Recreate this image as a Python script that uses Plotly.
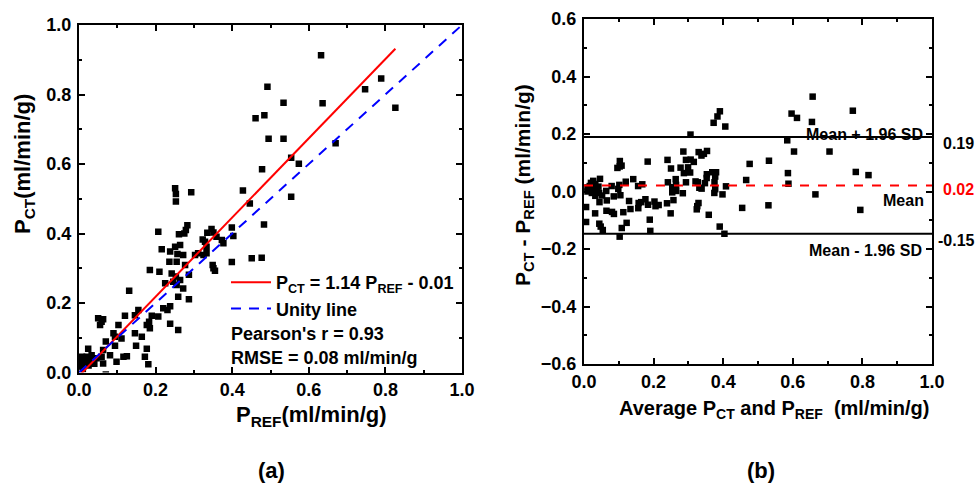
import plotly.graph_objects as go

# ---------------- data ----------------
# Panel (a): P_REF (x) vs P_CT (y), ml/min/g
# (the last six pairs lie just below the visible y-range of panel (a); they were
#  read from their positions in panel (b))
p_ref = [0.632, 0.636, 0.670, 0.747, 0.789, 0.826,
         0.534, 0.534, 0.554, 0.574, 0.554,
         0.492, 0.461, 0.484, 0.495, 0.478, 0.428, 0.446,
         0.251, 0.253, 0.253, 0.293,
         0.283, 0.279, 0.275, 0.261, 0.207, 0.483, 0.399, 0.403,
         0.346, 0.351, 0.335, 0.359, 0.373, 0.377, 0.323, 0.329, 0.333,
         0.216, 0.238, 0.251, 0.264, 0.257, 0.272, 0.303, 0.311, 0.325, 0.333,
         0.236, 0.255, 0.277, 0.399, 0.451, 0.477, 0.349, 0.351, 0.355,
         0.185, 0.210, 0.242, 0.253, 0.264, 0.287, 0.225, 0.246, 0.255, 0.272,
         0.259, 0.287, 0.131, 0.220, 0.231, 0.238, 0.207, 0.190, 0.183, 0.177, 0.185, 0.238, 0.259,
         0.155, 0.146, 0.120, 0.050, 0.059, 0.063, 0.055, 0.103, 0.090, 0.094, 0.146, 0.164, 0.111,
         0.149, 0.177, 0.094, 0.070, 0.081, 0.098, 0.116, 0.125, 0.172, 0.181, 0.063, 0.059, 0.063,
         0.046, 0.037, 0.024, 0.033, 0.020, 0.011, 0.007, 0.016, 0.003,
         0.005, 0.010, 0.015, 0.025, 0.030, 0.008, 0.040,
         0.033, 0.059, 0.070, 0.100, 0.109, 0.121]
p_ct = [0.913, 0.775, 0.660, 0.815, 0.846, 0.762,
        0.776, 0.673, 0.618, 0.601, 0.506,
        0.822, 0.732, 0.740, 0.673, 0.585, 0.524, 0.486,
        0.530, 0.514, 0.492, 0.519,
        0.424, 0.410, 0.400, 0.398, 0.405, 0.426, 0.417, 0.393,
        0.413, 0.403, 0.402, 0.391, 0.381, 0.372, 0.383, 0.376, 0.362,
        0.355, 0.348, 0.362, 0.367, 0.341, 0.338, 0.338, 0.343, 0.338, 0.343,
        0.319, 0.319, 0.309, 0.318, 0.329, 0.330, 0.309, 0.300, 0.293,
        0.295, 0.290, 0.285, 0.276, 0.266, 0.281, 0.257, 0.261, 0.252, 0.242,
        0.218, 0.211, 0.235, 0.185, 0.180, 0.191, 0.161, 0.163, 0.146, 0.137, 0.127, 0.140, 0.122,
        0.180, 0.165, 0.163, 0.156, 0.146, 0.153, 0.137, 0.137, 0.113, 0.103, 0.113, 0.103, 0.098,
        0.077, 0.068, 0.077, 0.089, 0.050, 0.031, 0.045, 0.047, 0.045, 0.024, 0.065, 0.045, 0.026,
        0.041, 0.036, 0.068, 0.050, 0.045, 0.041, 0.026, 0.022, 0.017,
        0.035, 0.010, 0.030, 0.020, 0.035, 0.045, 0.025,
        -0.021, -0.047, -0.006, -0.012, -0.013, -0.013]

fit_slope = 1.14
fit_intercept = -0.01
fit_x_range = [0.0, 0.826]
unity_range = [0.0, 1.0]

mean_diff = 0.021
upper_loa = 0.19
lower_loa = -0.147
loa_labels = ["0.19", "0.02", "-0.15"]

# Panel (b): Bland-Altman (average vs difference) of the same pairs
ba_avg = [(r + c) / 2 for r, c in zip(p_ref, p_ct)]
ba_diff = [c - r for r, c in zip(p_ref, p_ct)]

# ---------------- figure ----------------
FONT = "Liberation Sans, Arial, sans-serif"
W, H = 979, 491

def px(x):
    return x / W

def py(y):
    return 1 - y / H

fig = go.Figure()

fit_y = [fit_slope * v + fit_intercept for v in fit_x_range]

fig.add_trace(go.Scatter(x=p_ref, y=p_ct, mode="markers", showlegend=False,
                         marker=dict(symbol="square", size=6.5, color="black"),
                         xaxis="x", yaxis="y"))
fig.add_trace(go.Scatter(x=fit_x_range, y=fit_y, mode="lines",
                         name="<b>P<sub>CT</sub> = 1.14 P<sub>REF</sub> - 0.01</b>",
                         line=dict(color="#ff0000", width=2), xaxis="x", yaxis="y"))
fig.add_trace(go.Scatter(x=unity_range, y=unity_range, mode="lines",
                         name="<b>Unity line</b>",
                         line=dict(color="#0000ff", width=2, dash="10px,8px"), xaxis="x", yaxis="y"))

fig.add_trace(go.Scatter(x=ba_avg, y=ba_diff, mode="markers", showlegend=False,
                         marker=dict(symbol="square", size=6.5, color="black"),
                         xaxis="x2", yaxis="y2"))
fig.add_trace(go.Scatter(x=[0, 1], y=[upper_loa, upper_loa], mode="lines", showlegend=False,
                         line=dict(color="black", width=2), xaxis="x2", yaxis="y2"))
fig.add_trace(go.Scatter(x=[0, 1], y=[lower_loa, lower_loa], mode="lines", showlegend=False,
                         line=dict(color="black", width=2), xaxis="x2", yaxis="y2"))
fig.add_trace(go.Scatter(x=[0, 1], y=[mean_diff, mean_diff], mode="lines", showlegend=False,
                         line=dict(color="#ff0000", width=2, dash="9px,9px"), xaxis="x2", yaxis="y2"))

tickfont = dict(family=FONT, size=18, color="black", weight="bold")

axis_common = dict(showline=True, linecolor="black", linewidth=2, mirror="allticks",
                   ticks="inside", ticklen=6, tickwidth=1.5, tickcolor="black",
                   showgrid=False, zeroline=False, tickfont=tickfont, automargin=False,
                   minor=dict(ticks="inside", ticklen=3, tickwidth=1.5, tickcolor="black", dtick=0.1))

fig.update_layout(
    width=W, height=H, margin=dict(l=0, r=0, t=0, b=0),
    paper_bgcolor="white", plot_bgcolor="white",
    font=dict(family=FONT, color="black"),
    xaxis=dict(axis_common, domain=[px(79), px(462)], range=[0, 1], dtick=0.2, tickformat=".1f",
               anchor="y", ticklabelstandoff=0),
    yaxis=dict(axis_common, domain=[py(372.5), py(25)], range=[0, 1], dtick=0.2, tickformat=".1f",
               anchor="x", ticklabelstandoff=2),
    xaxis2=dict(axis_common, domain=[px(584), px(932)], range=[0, 1], dtick=0.2, tickformat=".1f",
                anchor="y2", ticklabelstandoff=0),
    yaxis2=dict(axis_common, domain=[py(364), py(19)], range=[-0.6, 0.6], dtick=0.2, tickformat=".1f",
                anchor="x2", ticklabelstandoff=2),
    legend=dict(x=px(226), y=py(264), xanchor="left", yanchor="top",
                bgcolor="rgba(0,0,0,0)", font=dict(family=FONT, size=18, color="black"),
                tracegroupgap=0, itemwidth=40),
)

ann = []
def add_text(text, x, y, xanchor="left", color="black", size=17, angle=0):
    ann.append(dict(text=text, x=px(x), y=py(y), xref="paper", yref="paper",
                    xanchor=xanchor, yanchor="middle", showarrow=False, textangle=angle,
                    font=dict(family=FONT, size=size, color=color)))

# axis titles
add_text("<b>P<sub>REF</sub>(ml/min/g)</b>", 311, 416, xanchor="center", size=22)
add_text("<b>P<sub>CT</sub>(ml/min/g)</b>", 24, 164, xanchor="center", size=22, angle=-90)
add_text("<b>Average P<sub>CT</sub> and P<sub>REF</sub>  (ml/min/g)</b>", 774, 409,
         xanchor="center", size=20)
add_text("<b>P<sub>CT</sub> - P<sub>REF</sub> (ml/min/g)</b>", 524, 185, xanchor="center",
         size=21, angle=-90)

# statistics text
add_text("<b>Pearson's r = 0.93</b>", 229, 334, size=18)
add_text("<b>RMSE = 0.08 ml/min/g</b>", 229, 358, size=18)
add_text("<b>Mean + 1.96 SD</b>", 925, 134, xanchor="right", size=16)
add_text("<b>Mean</b>", 926, 200, xanchor="right", size=16)
add_text("<b>Mean - 1.96 SD</b>", 924, 250, xanchor="right", size=16)
add_text("<b>" + loa_labels[0] + "</b>", 941, 143, size=16)
add_text("<b>" + loa_labels[1] + "</b>", 941, 190, color="#ff0000", size=16)
add_text("<b>" + loa_labels[2] + "</b>", 936, 240, size=16)
add_text("<b>(a)</b>", 271, 470, xanchor="center", size=22)
add_text("<b>(b)</b>", 761, 470, xanchor="center", size=22)
fig.update_layout(annotations=ann)

fig.write_html("out.html")
